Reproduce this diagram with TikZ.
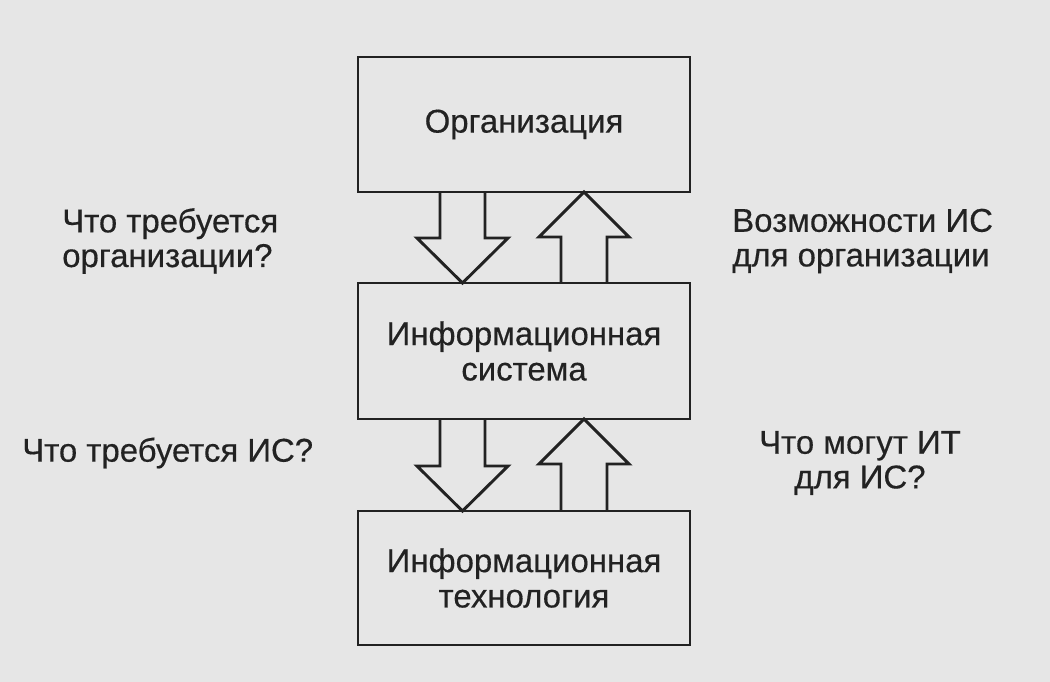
\documentclass[tikz,border=0pt]{standalone}
\usepackage{fontspec}
\setmainfont{Liberation Sans}
\newfontfamily\inkfont{Liberation Sans}[FakeBold=0.4]
\usetikzlibrary{calc}
\definecolor{paper}{HTML}{E6E6E6}
\definecolor{ink}{HTML}{222222}
\newcommand\blkdown[2]{%
  \draw[barrow] ($(#1.south)+(-84,0)$) -- ($(#2.north)+(-84,-45)$) -- ($(#2.north)+(-107,-45)$)
    -- ($(#2.north)+(-61.5,0)$) -- ($(#2.north)+(-16,-45)$) -- ($(#2.north)+(-39,-45)$)
    -- ($(#1.south)+(-39,0)$);}
\newcommand\blkup[2]{%
  \draw[barrow] ($(#2.north)+(37,0)$) -- ($(#1.south)+(37,45)$) -- ($(#1.south)+(15,45)$)
    -- ($(#1.south)+(60,0)$) -- ($(#1.south)+(105,45)$) -- ($(#1.south)+(83,45)$)
    -- ($(#2.north)+(83,0)$);}
\begin{document}
\begin{tikzpicture}[x=0.75pt,y=-0.75pt,
  box/.style={draw=ink,line width=2.2pt,minimum width={332*0.75pt},inner sep=0pt,
    text=ink,font=\inkfont\fontsize{24.7}{26.5}\selectfont,align=center,outer sep=0pt},
  lbl/.style={text=ink,font=\inkfont\fontsize{24.7}{26}\selectfont,inner sep=0pt},
  barrow/.style={draw=ink,line width=2.2pt,line join=miter}]
\fill[paper] (0,0) rectangle (1050,682);
\useasboundingbox (0,0) rectangle (1050,682);
\node[box,minimum height={135*0.75pt}] (org) at (524,124.5) {Организация};
\node[box,minimum height={136*0.75pt}] (is) at (524,351) {Информационная\\система};
\node[box,minimum height={134*0.75pt}] (it) at (524,578) {Информационная\\технология};
\blkdown{org}{is}
\blkup{org}{is}
\blkdown{is}{it}
\blkup{is}{it}
\node[lbl,align=left,anchor=west] (q1) at (62,241) {Что требуется\\организации?};
\node[lbl,align=left,anchor=west] (q2) at (732,241) {Возможности ИС\\для организации};
\node[lbl,anchor=west] (q3) at (22,453) {Что требуется ИС?};
\node[lbl,align=center] (q4) at (860,463) {Что могут ИТ\\для ИС?};
\end{tikzpicture}
\end{document}
